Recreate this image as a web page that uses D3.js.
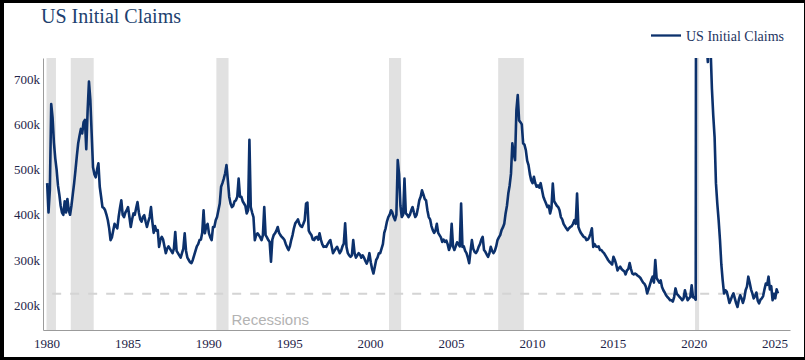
<!DOCTYPE html>
<html><head><meta charset="utf-8">
<script src="https://cdn.jsdelivr.net/npm/d3@7"></script>
<style>
html,body{margin:0;padding:0;background:#000;}
svg{display:block;}
</style></head><body>
<svg id="chart" width="805" height="360"></svg>
<script>
// Monthly US initial claims (thousands), starting Jan 1980
const startYear = 1980;
const claims = [
/*1980*/ 470,405,455,645,615,560,525,500,465,445,420,405,
/*1981*/ 400,430,405,435,410,400,420,445,470,499,530,558,
/*1982*/ 575,590,580,605,610,545,630,695,655,580,505,490,
/*1983*/ 483,500,514,462,440,417,415,410,400,388,370,344,
/*1984*/ 350,365,380,375,370,395,415,432,400,395,405,410,
/*1985*/ 417,395,373,390,403,400,415,428,405,390,385,395,
/*1986*/ 399,385,373,385,395,417,385,360,375,365,366,329,
/*1987*/ 345,351,345,330,315,325,330,325,320,315,325,362,
/*1988*/ 320,315,310,305,315,325,359,320,305,300,295,293,
/*1989*/ 300,310,320,330,335,344,345,360,410,359,375,380,
/*1990*/ 359,350,344,373,373,388,395,410,425,462,470,480,
/*1991*/ 492,510,476,440,425,417,420,430,432,440,480,440,
/*1992*/ 440,430,425,420,403,410,566,417,405,395,344,355,
/*1993*/ 359,355,350,344,355,417,355,350,344,340,296,345,
/*1994*/ 355,359,365,373,360,355,351,348,344,335,328,322,
/*1995*/ 330,344,355,370,381,385,390,380,375,373,380,388,
/*1996*/ 425,427,365,359,355,345,344,350,351,345,359,345,
/*1997*/ 335,329,330,329,335,340,344,330,315,320,325,329,
/*1998*/ 322,315,320,330,336,381,329,315,310,307,310,344,
/*1999*/ 315,305,310,315,312,305,310,305,298,292,300,315,
/*2000*/ 295,280,270,285,300,305,315,315,325,335,360,370,
/*2001*/ 385,395,400,410,405,395,388,400,521,490,420,395,
/*2002*/ 400,480,403,400,395,400,410,417,405,395,400,415,
/*2003*/ 432,440,454,445,435,432,410,395,390,375,366,360,
/*2004*/ 365,380,360,355,350,340,345,340,343,335,322,330,
/*2005*/ 380,330,322,330,339,335,330,425,329,330,320,315,
/*2006*/ 305,293,320,344,325,318,315,320,329,335,345,351,
/*2007*/ 322,318,312,307,315,329,320,315,320,330,344,350,
/*2008*/ 355,366,372,380,403,420,447,465,491,558,535,521,
/*2009*/ 631,665,609,605,600,558,555,543,520,510,490,476,
/*2010*/ 470,484,470,462,465,460,470,455,440,432,425,417,
/*2011*/ 420,403,415,469,430,425,420,417,410,395,390,380,
/*2012*/ 375,370,366,370,373,375,380,388,380,447,373,365,
/*2013*/ 359,355,351,350,344,345,350,359,370,329,335,330,
/*2014*/ 329,330,322,322,318,315,310,305,300,296,293,290,
/*2015*/ 307,300,290,277,282,285,280,277,275,268,277,280,
/*2016*/ 293,280,270,268,270,268,265,263,260,255,250,247,
/*2017*/ 241,226,235,245,255,263,250,300,260,255,250,255,
/*2018*/ 240,233,228,222,218,215,211,211,208,218,237,225,
/*2019*/ 222,218,215,211,215,233,220,211,215,218,244,217,
/*2020*/ 217,212,3300,5200,2500,1500,1350,1100,870,780,738,850,
/*2021*/ 770,680,620,572,470,425,388,344,290,255,226,233,
/*2022*/ 230,218,205,212,220,226,215,204,196,212,222,215,
/*2023*/ 205,215,233,241,263,250,235,226,215,220,228,210,
/*2024*/ 204,212,215,220,235,248,245,263,235,242,211,225,
/*2025*/ 215,235,226
];
const recessionStarts = ["1980-01","1981-07","1990-07","2001-03","2007-12","2020-02"];
const recessionEnds   = ["1980-07","1982-11","1991-03","2001-11","2009-06","2020-04"];
const xTickYears = [1980,1985,1990,1995,2000,2005,2010,2015,2020,2025];
const yTickValues = [200,300,400,500,600,700];
const referenceLevel = 225;
const seriesName = "US Initial Claims";
const titleText = "US Initial Claims";
const recessionLabel = "Recessions";

const serif = "'Times New Roman','Liberation Serif',serif";
const navy = "#0c316c";

const svg = d3.select("#chart");
svg.append("rect").attr("x",4).attr("y",3).attr("width",800).attr("height",354).attr("fill","#fff");

const L = 43, R = 790, T = 58, B = 330;
const x = d3.scaleLinear().domain([1979.784, 2025.952]).range([L, R]);
const y = d3.scaleLinear().domain([145, 747]).range([B, T]);

const data = claims.map((v,i) => ({t: startYear + (i + 0.5)/12, v}));
const ym = s => { const [a,b] = s.split("-").map(Number); return {y:a, m:b}; };
const bands = recessionStarts.map((s,i) => {
  const a = ym(s), b = ym(recessionEnds[i]);
  return {s: a.y + (a.m-1)/12, e: b.y + b.m/12};
});

svg.append("defs").append("clipPath").attr("id","plotclip")
  .append("rect").attr("x",L).attr("y",T).attr("width",R-L).attr("height",B-T);

const plot = svg.append("g").attr("clip-path","url(#plotclip)");
plot.selectAll("rect.band").data(bands).join("rect").attr("class","band")
  .attr("x", d => x(d.s)).attr("width", d => x(d.e)-x(d.s))
  .attr("y", T).attr("height", B-T).attr("fill","#e1e1e1");

plot.append("line")
  .attr("x1", x(data[0].t)).attr("x2", x(data[data.length-1].t))
  .attr("y1", y(referenceLevel)).attr("y2", y(referenceLevel))
  .attr("stroke","#d4d4d4").attr("stroke-width",2)
  .attr("stroke-dasharray","9,9").attr("stroke-dashoffset",13);

plot.append("path").datum(data)
  .attr("fill","none").attr("stroke",navy).attr("stroke-width",2.6)
  .attr("stroke-linejoin","round")
  .attr("d", d3.line().x(d => x(d.t)).y(d => y(d.v)));

// Recessions label
svg.append("text").attr("x", x(bands[2].e) + 3).attr("y", 325)
  .attr("font-family","Arial,'Liberation Sans',sans-serif").attr("font-size",15)
  .attr("fill","#b3b3b3").text(recessionLabel);

// Axes
const yAxis = svg.append("g").attr("transform",`translate(${L},0)`)
  .call(d3.axisLeft(y).tickValues(yTickValues).tickFormat(d => d + "k").tickSize(0).tickPadding(3).tickSizeOuter(0));
const xAxis = svg.append("g").attr("transform",`translate(0,${B})`)
  .call(d3.axisBottom(x).tickValues(xTickYears).tickFormat(d3.format("d")).tickSize(0).tickPadding(9).tickSizeOuter(0));
[yAxis, xAxis].forEach(g => {
  g.attr("font-family", serif);
  g.select(".domain").attr("stroke","#9b9b9b").attr("stroke-width",1);
  g.selectAll("text").attr("font-family",serif).attr("font-size",13).attr("fill","#1e2448");
});

// Title
svg.append("text").attr("x",41).attr("y",23).attr("font-family",serif).attr("font-size",20)
  .attr("fill","#213f6f").text(titleText);

// Legend
svg.append("line").attr("x1",651).attr("x2",681).attr("y1",35.5).attr("y2",35.5)
  .attr("stroke",navy).attr("stroke-width",2.3);
svg.append("text").attr("x",686).attr("y",41).attr("font-family",serif).attr("font-size",14)
  .attr("fill","#1d3461").text(seriesName);
</script>
</body></html>
